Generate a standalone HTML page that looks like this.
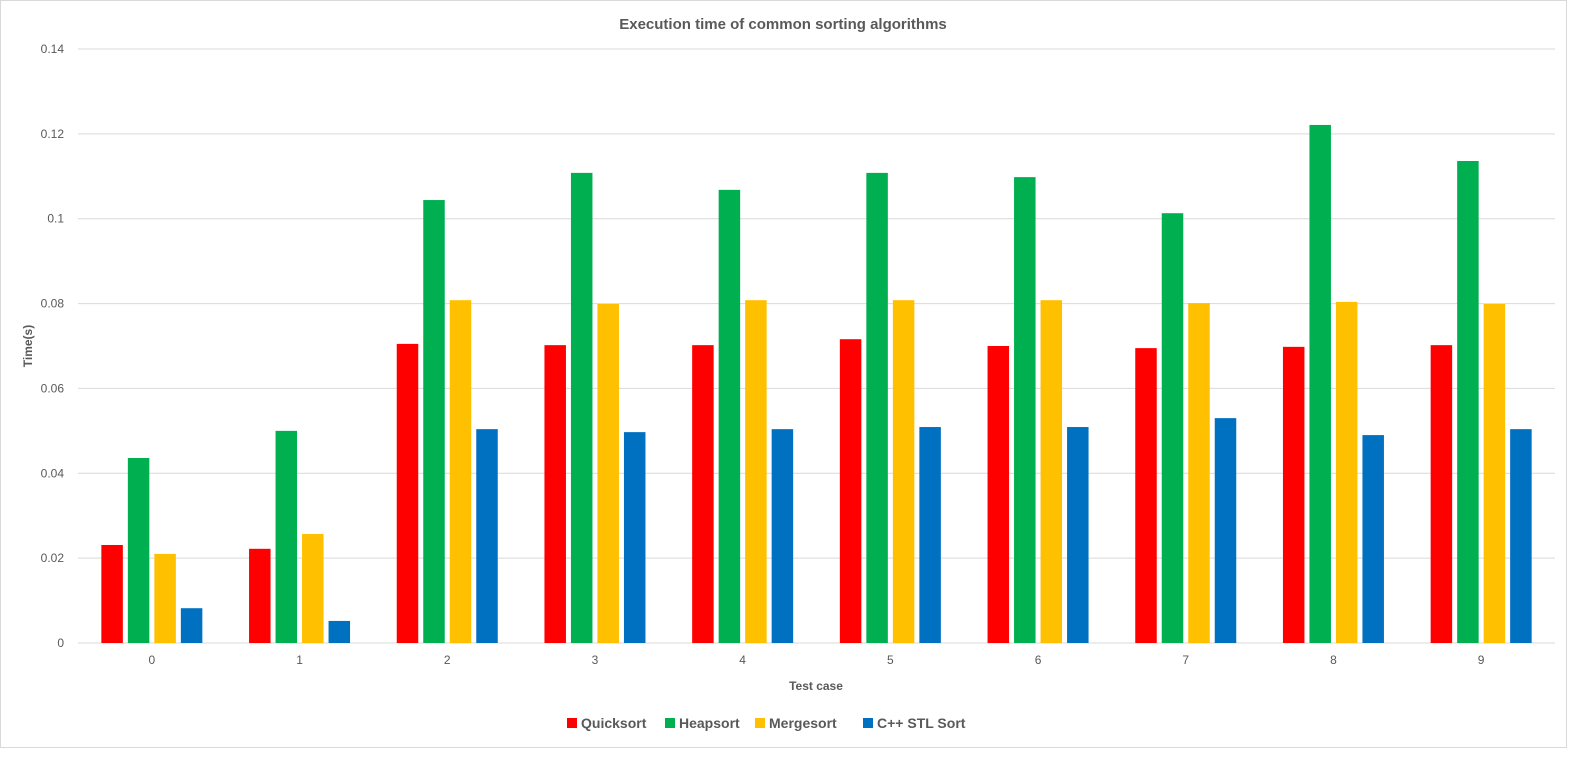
<!DOCTYPE html>
<html><head><meta charset="utf-8"><style>
body{margin:0;background:#fff;font-family:"Liberation Sans",sans-serif;}
svg text{font-family:"Liberation Sans",sans-serif;fill:#595959;}
</style></head><body>
<svg id="chart" width="1590" height="761" xmlns="http://www.w3.org/2000/svg">
<rect x="0.5" y="0.5" width="1566" height="747" fill="#fff" stroke="#d9d9d9"/>
<text x="783" y="29" text-anchor="middle" font-size="15" font-weight="bold">Execution time of common sorting algorithms</text>
<g id="grid"></g><g id="bars"></g><g id="xlabels"></g>
<text x="32" y="346" text-anchor="middle" font-size="12" font-weight="bold" transform="rotate(-90 32 346)">Time(s)</text>
<text x="816" y="690" text-anchor="middle" font-size="12" font-weight="bold">Test case</text>
<g id="legend"></g>
</svg>
<script>
const categories=["0","1","2","3","4","5","6","7","8","9"];
const seriesNames=["Quicksort","Heapsort","Mergesort","C++ STL Sort"];
const colors=["#ff0000","#00b050","#ffc000","#0070c0"];
const quicksort=[0.0231,0.0222,0.0705,0.0702,0.0702,0.0716,0.0700,0.0695,0.0698,0.0702];
const heapsort=[0.0436,0.0500,0.1044,0.1108,0.1068,0.1108,0.1098,0.1013,0.1221,0.1136];
const mergesort=[0.0210,0.0257,0.0808,0.0799,0.0808,0.0808,0.0808,0.0801,0.0804,0.0799];
const stlsort=[0.0082,0.0052,0.0504,0.0497,0.0504,0.0509,0.0509,0.0530,0.0490,0.0504];
const yTicks=[0,0.02,0.04,0.06,0.08,0.1,0.12,0.14];
const yTickLabels=["0","0.02","0.04","0.06","0.08","0.1","0.12","0.14"];
const series=[quicksort,heapsort,mergesort,stlsort];
const NS="http://www.w3.org/2000/svg";
const L=78,R=1555,T=49,B=643,yMax=0.14;
const y=v=>B-(v/yMax)*(B-T);
const band=(R-L)/categories.length;
const xc=i=>L+band*(i+0.5);
function mk(tag,attrs,parent){const e=document.createElementNS(NS,tag);for(const k in attrs)e.setAttribute(k,attrs[k]);parent.appendChild(e);return e;}
const grid=document.getElementById('grid');
yTicks.forEach((t,i)=>{
 const l=mk('line',{x1:L,x2:R,y1:y(t),y2:y(t),stroke:'#d9d9d9','stroke-width':1},grid);
 
 
 const tx=mk('text',{x:64,y:y(t)+4,'text-anchor':'end','font-size':12},grid);
 tx.textContent=yTickLabels[i];
 
 
});
const bars=document.getElementById('bars');
const bw=21.5,step=26.5;
categories.forEach((c,i)=>{
 series.forEach((s,j)=>{
  const x=xc(i)+(j-2)*step+(step-bw)/2;
  const r=mk('rect',{x:x,y:y(s[i]),width:bw,height:B-y(s[i]),fill:colors[j]},bars);
  
  
 });
 const tx=mk('text',{x:xc(i),y:664,'text-anchor':'middle','font-size':12},document.getElementById('xlabels'));
 tx.textContent=c;
 
 
});
const lg=document.getElementById('legend');
const lx=[567,665,755,863];
seriesNames.forEach((n,j)=>{
 const g=mk('g',{},lg);
 
 
 mk('rect',{x:lx[j],y:718,width:10,height:10,fill:colors[j]},g);
 const t=mk('text',{x:lx[j]+14,y:728,'font-size':14,'font-weight':'bold'},g);
 t.textContent=n;
});
</script>
</body></html>
